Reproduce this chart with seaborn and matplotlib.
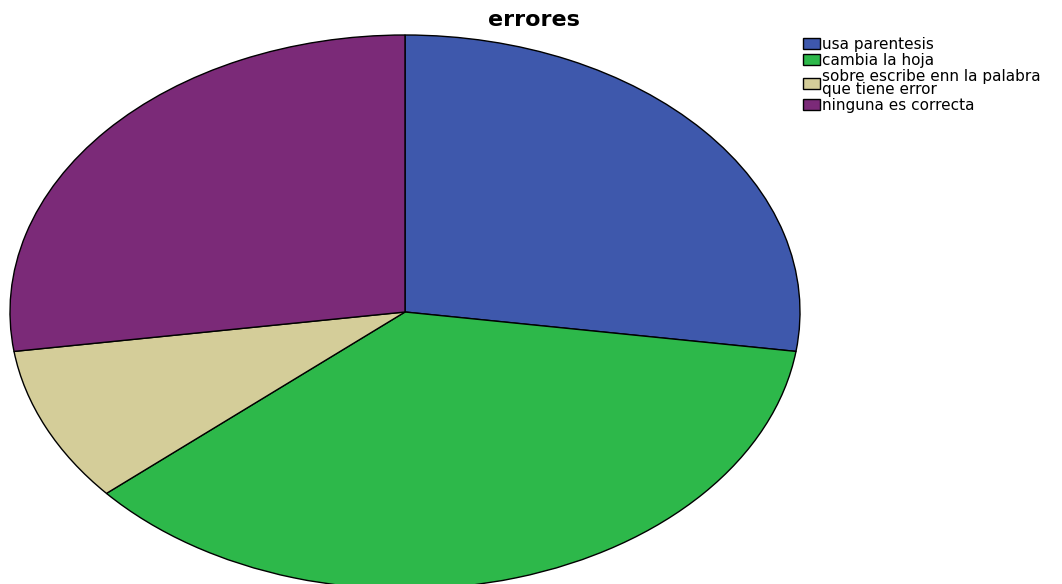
import matplotlib
matplotlib.use("Agg")
import matplotlib.pyplot as plt
import seaborn as sns

categorias = ["usa parentesis", "cambia la hoja",
              "sobre escribe enn la palabra\nque tiene error", "ninguna es correcta"]
frecuencias = [3, 4, 1, 3]
colores = ["#3e58ac", "#2db84a", "#d4cd99", "#7b2a78"]

sns.set_style("white")
plt.rcParams["font.family"] = ["DejaVu Sans"]
plt.rcParams["text.color"] = "black"

fig = plt.figure(figsize=(10.62, 5.84), dpi=100)
# stretched pie: axes box set to the ellipse's bounding box
ax = fig.add_axes([10 / 1062, (584 - 589) / 584, 790 / 1062, 554 / 584])
wedges, _ = ax.pie(frecuencias, colors=colores, startangle=90, counterclock=False,
                   wedgeprops=dict(edgecolor="black", linewidth=1.0))
ax.set_aspect("auto")
ax.set_xlim(-1, 1)
ax.set_ylim(-1, 1)
ax.axis("off")

fig.text(534 / 1062, 1 - 20 / 584, "errores", ha="center", va="center",
         fontsize=16, fontweight="bold")

leg = fig.legend(wedges, categorias, loc="upper left",
                 bbox_to_anchor=(803 / 1062, 1 - 37 / 584), frameon=False,
                 fontsize=11, borderpad=0, borderaxespad=0, handlelength=1.1,
                 handleheight=0.7, handletextpad=0.15, labelspacing=0.05)
for t in leg.get_texts():
    t.set_linespacing(0.9)

fig.savefig("out.png", dpi=100)
